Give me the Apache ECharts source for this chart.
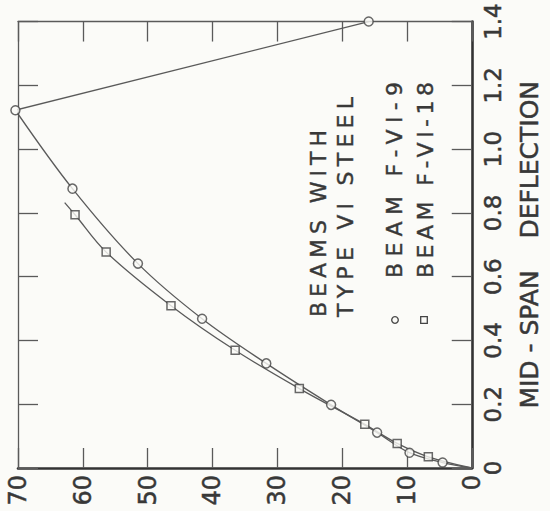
<!DOCTYPE html>
<html><head><meta charset="utf-8">
<script src="https://cdn.jsdelivr.net/npm/echarts@6/dist/echarts.min.js"></script>
<style>html,body{margin:0;padding:0;background:#fbfbf8}#c{width:550px;height:511px}</style>
</head><body><div id="c"></div>
<script>
// Load (horizontal, 0 at right) and mid-span deflection (vertical, right axis)
const loadTickLabels = ['0','10','20','30','40','50','60','70'];
const deflTickLabels = ['0','0.2','0.4','0.6','0.8','1.0','1.2','1.4'];

// Beam F-VI-9 (circles)
const beam9Load = [4.5, 9.6, 14.6, 21.7, 31.7, 41.6, 51.5, 61.6, 70.4, 15.9];
const beam9Defl = [0.017, 0.048, 0.111, 0.198, 0.328, 0.468, 0.641, 0.876, 1.122, 1.40];
// Beam F-VI-18 (squares)
const beam18Load = [6.7, 11.5, 16.5, 26.6, 36.5, 46.4, 56.4, 61.2];
const beam18Defl = [0.035, 0.077, 0.137, 0.249, 0.369, 0.509, 0.677, 0.794];

// faired curves
const curve9Load = [0, 4.5, 9.6, 14.6, 21.7, 31.7, 41.6, 51.5, 61.6, 70.4];
const curve9Defl = [0, 0.017, 0.048, 0.111, 0.198, 0.328, 0.468, 0.641, 0.876, 1.122];
const unload9Load = [70.4, 15.9];
const unload9Defl = [1.122, 1.40];
const curve18Load = [0, 6.7, 11.5, 16.5, 26.6, 36.5, 46.4, 56.4, 61.2, 62.8];
const curve18Defl = [0, 0.035, 0.077, 0.137, 0.249, 0.369, 0.509, 0.677, 0.794, 0.832];

// legend block text
const legendLines = ['BEAMS WITH', 'TYPE VI STEEL', 'BEAM F-VI-9', 'BEAM F-VI-18'];

const zip = (a, b) => a.map((v, i) => [v, b[i]]);
const INK = '#383838', LINE = '#5a5a5a', BG = '#fbfbf8';
const FONT = 'DejaVu Sans';

const chart = echarts.init(document.getElementById('c'), null, {renderer: 'svg'});
const baseX = {
  type: 'value', min: 0, max: 70, interval: 10, inverse: true,
  splitLine: {show: false},
  axisTick: {show: true, inside: true, length: 20, lineStyle: {color: LINE, width: 1.3}}
};
const baseY = {
  type: 'value', min: 0, max: 1.4, interval: 0.2,
  splitLine: {show: false},
  axisTick: {show: true, inside: true, length: 20, lineStyle: {color: LINE, width: 1.3}}
};
const legendText = (i, x, y) => ({type: 'text', x, y,
  style: {text: legendLines[i], fontSize: 22, fontFamily: FONT, fill: INK, stroke: INK, lineWidth: 0.4,
    align: 'left', verticalAlign: 'middle'}});
chart.setOption({
  animation: false,
  backgroundColor: BG,
  grid: {left: 18, right: 70, top: 10, bottom: 43, containLabel: false},
  xAxis: [
    Object.assign({}, baseX, {
      position: 'bottom',
      axisLine: {show: true, onZero: false, lineStyle: {color: '#333', width: 2.6}},
      axisLabel: {rotate: 90, margin: 7, fontSize: 24, fontFamily: FONT, color: INK,
        textBorderColor: INK, textBorderWidth: 0.5,
        formatter: v => loadTickLabels[Math.round(v / 10)]}
    }),
    Object.assign({}, baseX, {
      position: 'top',
      axisLine: {show: true, onZero: false, lineStyle: {color: LINE, width: 1.3}},
      axisLabel: {show: false}
    })
  ],
  yAxis: [
    Object.assign({}, baseY, {
      position: 'right',
      axisLine: {show: true, onZero: false, lineStyle: {color: '#333', width: 2.6}},
      axisLabel: {rotate: 90, margin: 10, fontSize: 23, fontFamily: FONT, color: INK,
        textBorderColor: INK, textBorderWidth: 0.5,
        formatter: v => deflTickLabels[Math.round(v / 0.2)]},
      name: 'MID - SPAN    DEFLECTION',
      nameLocation: 'middle', nameRotate: 90, nameGap: 45,
      nameTextStyle: {fontSize: 25, fontFamily: FONT, color: INK, textBorderColor: INK, textBorderWidth: 0.5}
    }),
    Object.assign({}, baseY, {
      position: 'left',
      axisLine: {show: true, onZero: false, lineStyle: {color: LINE, width: 1.3}},
      axisLabel: {show: false}
    })
  ],
  series: [
    {type: 'line', data: zip(curve9Load, curve9Defl), smooth: 0.35, showSymbol: false, clip: false,
      lineStyle: {color: LINE, width: 1.3}},
    {type: 'line', data: zip(unload9Load, unload9Defl), showSymbol: false, clip: false,
      lineStyle: {color: LINE, width: 1.3}},
    {type: 'line', data: zip(curve18Load, curve18Defl), smooth: 0.35, showSymbol: false, clip: false,
      lineStyle: {color: LINE, width: 1.3}},
    {type: 'scatter', name: 'BEAM F-VI-9', data: zip(beam9Load, beam9Defl), symbol: 'circle', symbolSize: 9, clip: false,
      itemStyle: {color: BG, borderColor: '#444', borderWidth: 1.5}, z: 5},
    {type: 'scatter', name: 'BEAM F-VI-18', data: zip(beam18Load, beam18Defl), symbol: 'rect', symbolSize: 8, clip: false,
      itemStyle: {color: BG, borderColor: '#444', borderWidth: 1.5}, z: 5}
  ],
  graphic: [{
    type: 'group', x: 300, y: 320, rotation: Math.PI / 2,
    children: [
      legendText(0, 3, 18),
      legendText(1, 3, 45),
      {type: 'circle', shape: {cx: 0, cy: 95, r: 3.3}, style: {fill: 'none', stroke: '#444', lineWidth: 1.3}},
      legendText(2, 42, 94),
      {type: 'rect', shape: {x: -3.3, y: 120.7, width: 6.6, height: 6.6}, style: {fill: 'none', stroke: '#444', lineWidth: 1.3}},
      legendText(3, 42, 125)
    ]
  }]
});
// stretch the hand-lettered legend lines to their lettered lengths
const legendLengths = {'BEAMS WITH': 187, 'TYPE VI STEEL': 220, 'BEAM F-VI-9': 196, 'BEAM F-VI-18': 196};
function spaceOut() {
  document.querySelectorAll('#c svg text').forEach(t => {
    const s = t.textContent;
    if (legendLengths[s]) {
      t.setAttribute('textLength', legendLengths[s]);
      t.setAttribute('lengthAdjust', 'spacing');
    }
  });
}
spaceOut();
chart.on('finished', spaceOut);
setTimeout(spaceOut, 50);
</script></body></html>
